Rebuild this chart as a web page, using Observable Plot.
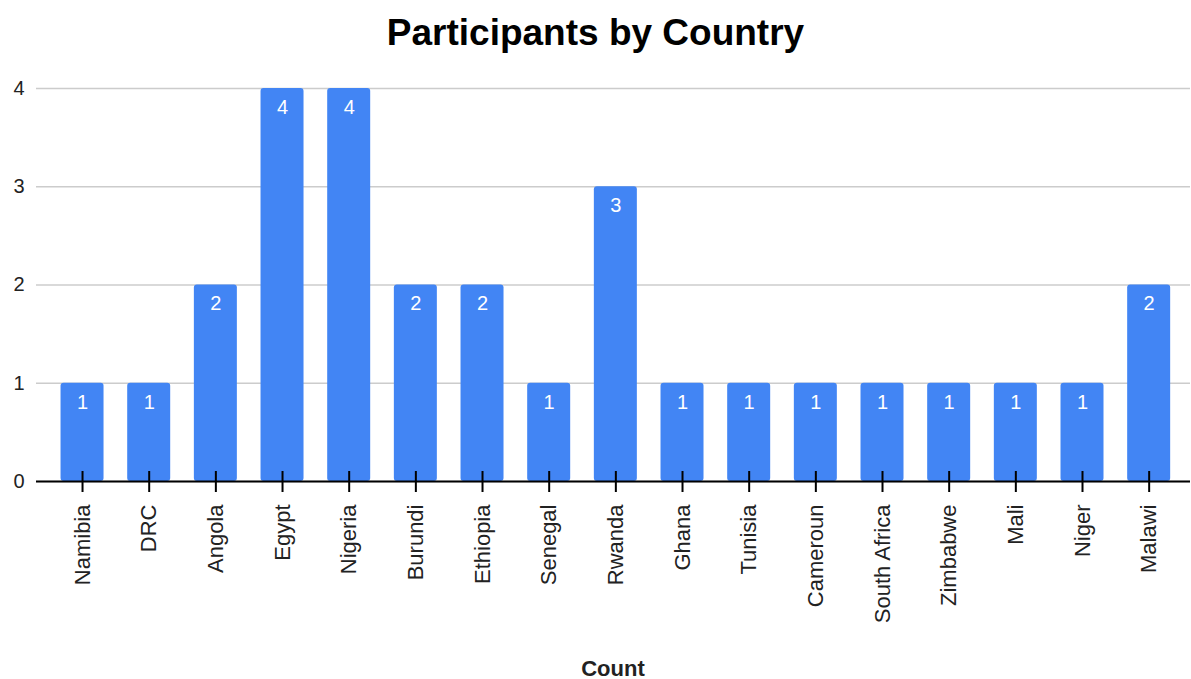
<!DOCTYPE html>
<html>
<head>
<meta charset="utf-8">
<script src="https://cdn.jsdelivr.net/npm/d3@7"></script>
<script src="https://cdn.jsdelivr.net/npm/@observablehq/plot@0.6"></script>
<style>
  body { margin: 0; background: #fff; width: 1191px; height: 679px; overflow: hidden; }
  #title { height: 64px; line-height: 62px; text-align: center; font: bold 37px "Liberation Sans", Arial, sans-serif; color: #000; position: relative; top: 12px; margin-bottom: -0px; }
  #titlewrap { height: 64px; overflow: visible; }
  #caption { margin-left: 36px; width: 1154px; height: 29px; line-height: 36px; text-align: center; font: bold 22px "Liberation Sans", Arial, sans-serif; color: #222; position: relative; top: 6px; }
</style>
</head>
<body>
<div id="titlewrap"><div id="title">Participants by Country</div></div>
<div id="chart"></div>
<div id="caption">Count</div>
<script>
const countries = ["Namibia","DRC","Angola","Egypt","Nigeria","Burundi","Ethiopia","Senegal","Rwanda","Ghana","Tunisia","Cameroun","South Africa","Zimbabwe","Mali","Niger","Malawi"];
const counts = [1,1,2,4,4,2,2,1,3,1,1,1,1,1,1,1,2];
const yTicks = [0,1,2,3,4];

const data = countries.map((c, i) => ({country: c, count: counts[i]}));

const chart = Plot.plot({
  width: 1191,
  height: 586,
  marginLeft: 36,
  marginRight: 1,
  marginTop: 24,
  marginBottom: 169,
  style: {fontFamily: "'Liberation Sans', Arial, sans-serif", color: "#222", background: "#fff"},
  x: {type: "band", domain: countries, paddingInner: 0.355, paddingOuter: 0.1775, insetLeft: 12.7, insetRight: 8, round: false},
  y: {domain: [0, 4]},
  marks: [
    Plot.gridY(yTicks, {stroke: "#ccc", strokeOpacity: 1, strokeWidth: 1.5}),
    Plot.barY(data, {x: "country", y: "count", fill: "#4285F4", rx: 3}),
    Plot.text(data, {x: "country", y: "count", text: d => String(d.count), dy: 19, fill: "#fff", fontSize: 20}),
    Plot.ruleY([0], {stroke: "#000", strokeWidth: 2}),
    Plot.axisY({ticks: yTicks, tickFormat: d3.format("d"), tickSize: 0, tickPadding: 12, fontSize: 20, label: null}),
    Plot.axisX({tickSize: 0, tickRotate: -90, tickPadding: 23, fontSize: 22, label: null}),
    Plot.axisX({tickSize: 21, dy: -10, tickFormat: () => "", label: null, stroke: "#000", strokeWidth: 2})
  ]
});
document.getElementById("chart").appendChild(chart);
</script>
</body>
</html>
